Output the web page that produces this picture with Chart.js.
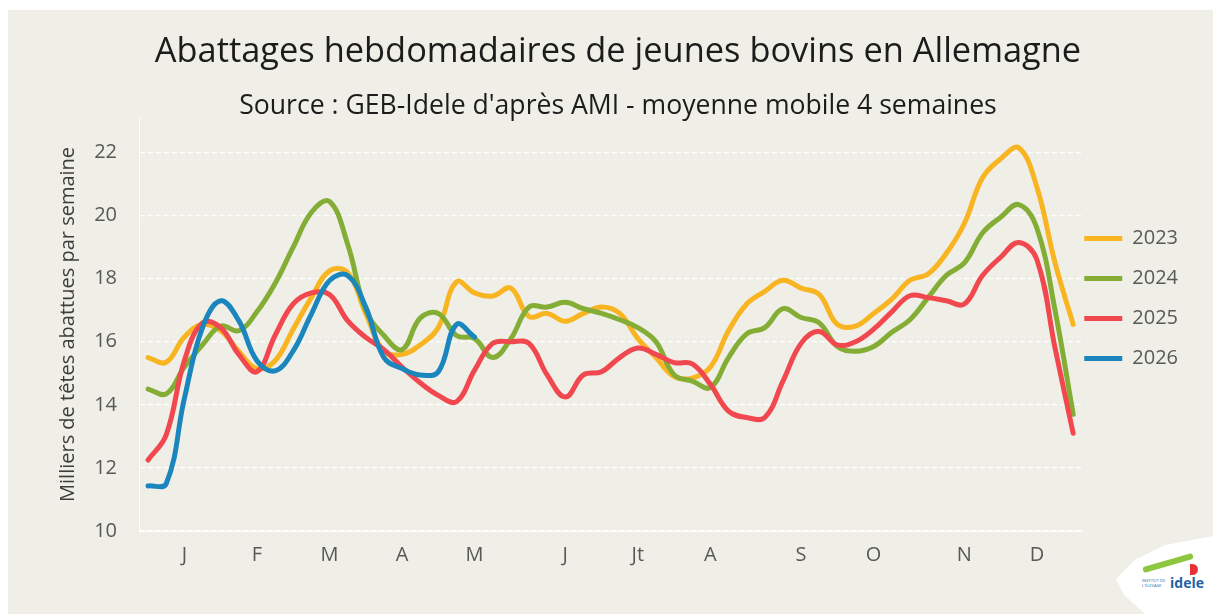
<!DOCTYPE html>
<html lang="fr">
<head>
<meta charset="utf-8">
<title>Abattages hebdomadaires de jeunes bovins en Allemagne</title>
<script src="https://cdn.jsdelivr.net/npm/chart.js@4.4.1/dist/chart.umd.min.js"></script>
<style>
  html, body { margin: 0; padding: 0; background: #ffffff; overflow: hidden; }
  body { width: 1216px; height: 614px; position: relative; font-family: "Open Sans", sans-serif; }
  #fond { position: absolute; left: 8px; top: 10px; width: 1205px; height: 604px; background: #efefe8; }
  #zone { position: absolute; left: 8px; top: 10px; width: 1216px; height: 604px; }
  #logo { position: absolute; left: 1116px; top: 536px; width: 97px; height: 78px; background: #ffffff;
          clip-path: polygon(0% 55%, 20% 30%, 50% 12%, 100% 0%, 100% 100%, 30% 100%, 8% 75%); }
  #logo .trait { position: absolute; left: 26px; top: 24px; width: 52px; height: 6px; background: #8dc63f;
                 border-radius: 3px; transform: rotate(-16deg); }
  #logo .marque { position: absolute; left: 74px; top: 28px; width: 8px; height: 11px; background: #e63331;
                  border-radius: 0 6px 6px 0; }
  #logo .petit { position: absolute; left: 26px; top: 42px; font-size: 4px; line-height: 5px; color: #1f5fa8; width: 24px; }
  #logo .nom { position: absolute; left: 54px; top: 37px; font-size: 14px; font-weight: bold; color: #1f5fa8; }
</style>
</head>
<body>
<div id="fond"></div>
<div id="zone"><canvas id="graphique" width="1216" height="604"></canvas></div>
<div id="logo"><div class="trait"></div><div class="marque"></div><div class="petit">INSTITUT DE L'ÉLEVAGE</div><div class="nom">idele</div></div>
<script>
// Semaines de l'année (axe des x)
const semaines = [1, 2, 3, 4, 5, 6, 7, 8, 9, 10, 11, 12, 13, 14, 15, 16, 17, 18, 19, 20, 21, 22, 23, 24, 25, 26,
    27, 28, 29, 30, 31, 32, 33, 34, 35, 36, 37, 38, 39, 40, 41, 42, 43, 44, 45, 46, 47, 48, 49, 50, 51, 52];

// Étiquettes des mois : semaine où le libellé est affiché
const moisSemaines = [3, 7, 11, 15, 19, 24, 28, 32, 37, 41, 46, 50];
const moisLibelles = ["J", "F", "M", "A", "M", "J", "Jt", "A", "S", "O", "N", "D"];

// Milliers de têtes abattues par semaine (moyenne mobile 4 semaines)
const annees = ["2023", "2024", "2025", "2026"];
const abattages2023 = [15.5, 15.35, 16.15, 16.55, 16.35, 15.7, 15.15, 15.4, 16.4, 17.4, 18.25, 18.2, 16.9, 15.7,
    15.6, 15.9, 16.45, 17.9, 17.55, 17.45, 17.7, 16.8, 16.9, 16.65, 16.9, 17.1, 16.9, 16.1, 15.5, 14.9, 14.85,
    15.2, 16.35, 17.2, 17.6, 17.95, 17.7, 17.5, 16.55, 16.5, 16.9, 17.35, 17.95, 18.15, 18.8, 19.75, 21.2,
    21.8, 22.15, 20.9, 18.5, 16.55];
const abattages2024 = [14.5, 14.35, 15.2, 15.9, 16.5, 16.35, 16.95, 17.85, 19.0, 20.1, 20.45, 19.1, 17.0, 16.2,
    15.75, 16.75, 16.9, 16.2, 16.1, 15.5, 16.1, 17.1, 17.1, 17.25, 17.05, 16.9, 16.7, 16.45, 16.0, 14.95, 14.75,
    14.55, 15.5, 16.25, 16.45, 17.05, 16.77, 16.6, 15.85, 15.7, 15.85, 16.3, 16.7, 17.4, 18.1, 18.5, 19.45,
    19.95, 20.35, 19.6, 17.0, 13.7];
const abattages2025 = [12.25, 13.05, 15.4, 16.6, 16.45, 15.6, 15.05, 16.2, 17.2, 17.55, 17.5, 16.67, 16.14, 15.75,
    15.2, 14.7, 14.3, 14.1, 15.1, 15.95, 16.0, 15.95, 14.95, 14.25, 14.95, 15.05, 15.5, 15.8, 15.6, 15.34, 15.3,
    14.65, 13.8, 13.6, 13.6, 14.75, 15.95, 16.33, 15.9, 16.0, 16.4, 16.95, 17.46, 17.4, 17.3, 17.2, 18.1,
    18.68, 19.15, 18.6, 15.8, 13.1];
const abattages2026 = [11.43, 11.5, 14.2, 16.45, 17.3, 16.67, 15.4, 15.08, 15.71, 16.88, 17.94, 18.1, 17.1, 15.5,
    15.15, 14.95, 15.05, 16.55, 16.15];

const couleurs = ["#f8b521", "#84ad35", "#f0484e", "#1a86bd"];
const series = [abattages2023, abattages2024, abattages2025, abattages2026];

const police = "'Open Sans', 'Noto Sans', sans-serif";
const gris = "#585858";

// Déplace la légende à côté de la zone du graphique (comme dans l'original)
const placerLegende = {
    id: "placerLegende",
    afterLayout(chart) {
        const leg = chart.legend;
        if (!leg) return;
        leg.left -= 18; leg.right -= 18;
        leg.top -= 26; leg.bottom -= 26;
    }
};

const ctx = document.getElementById("graphique").getContext("2d");
new Chart(ctx, {
    type: "line",
    data: {
        labels: semaines,
        datasets: annees.map((an, i) => ({
            label: an,
            data: series[i],
            borderColor: couleurs[i],
            backgroundColor: couleurs[i],
            borderWidth: 5,
            borderCapStyle: "round",
            borderJoinStyle: "round",
            pointRadius: 0,
            tension: 0.4,
            fill: false,
            order: annees.length - i // 2026 dessinée au-dessus
        }))
    },
    options: {
        responsive: false,
        animation: false,
        layout: { padding: { left: 22, right: 18, top: 0, bottom: 35 } },
        plugins: {
            title: {
                display: true,
                text: "Abattages hebdomadaires de jeunes bovins en Allemagne",
                color: "#1c1c1c",
                font: { family: police, size: 34.4, weight: "normal" },
                padding: { top: 22, bottom: 0 }
            },
            subtitle: {
                display: true,
                text: "Source : GEB-Idele d'après AMI - moyenne mobile 4 semaines",
                color: "#1c1c1c",
                font: { family: police, size: 26.6, weight: "normal", lineHeight: 1 },
                padding: { top: 20, bottom: -2 }
            },
            legend: {
                position: "right",
                align: "center",
                fullSize: false,
                labels: {
                    usePointStyle: true,
                    pointStyle: "line",
                    pointStyleWidth: 38,
                    padding: 20,
                    color: gris,
                    font: { family: police, size: 20 },
                    sort: (a, b) => a.datasetIndex - b.datasetIndex
                }
            },
            tooltip: { enabled: false }
        },
        scales: {
            x: {
                offset: true,
                grid: { display: false, drawTicks: false },
                border: { display: true, color: "#ffffff", width: 1 },
                ticks: {
                    autoSkip: false,
                    maxRotation: 0,
                    padding: 12,
                    color: gris,
                    font: { family: police, size: 20 },
                    callback: (val, idx) => {
                        const k = moisSemaines.indexOf(semaines[idx]);
                        return k >= 0 ? moisLibelles[k] : "";
                    }
                }
            },
            y: {
                min: 10,
                max: 23.1,
                afterBuildTicks: (axe) => { axe.ticks = axe.ticks.filter(t => t.value <= 22); },
                afterFit: (axe) => { axe.width = 109; },
                grid: { color: "#ffffff", lineWidth: 1.2, drawTicks: false },
                border: { display: true, color: "#ffffff", width: 1, dash: [5, 3] },
                ticks: {
                    stepSize: 2,
                    padding: 22,
                    color: gris,
                    font: { family: police, size: 20 }
                },
                title: {
                    display: true,
                    text: "Milliers de têtes abattues par semaine",
                    color: "#3c3c3c",
                    font: { family: police, size: 20 },
                    padding: { top: 26, bottom: 0 }
                }
            }
        }
    },
    plugins: [placerLegende]
});
</script>
</body>
</html>
